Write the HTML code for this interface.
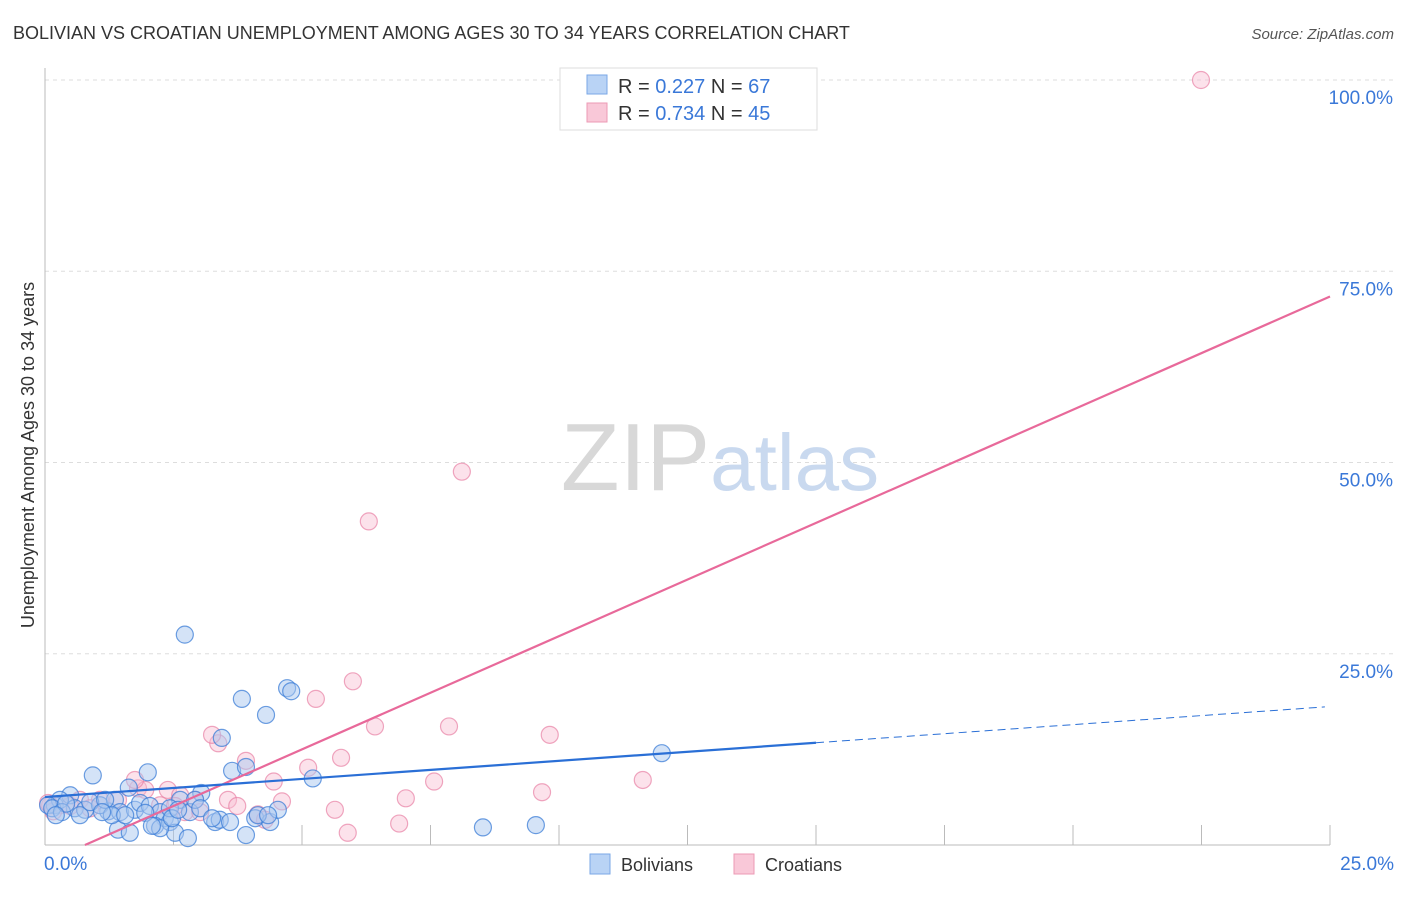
<!DOCTYPE html>
<html><head><meta charset="utf-8"><style>
body{margin:0;background:#fff;font-family:"Liberation Sans",sans-serif;}
svg text{font-family:"Liberation Sans",sans-serif;}
</style></head><body>
<svg id="chart" width="1406" height="892" viewBox="0 0 1406 892" xmlns="http://www.w3.org/2000/svg">
<text x="13" y="39" font-size="18" fill="#333">BOLIVIAN VS CROATIAN UNEMPLOYMENT AMONG AGES 30 TO 34 YEARS CORRELATION CHART</text>
<text x="1394" y="39" font-size="15" fill="#555" text-anchor="end" font-style="italic">Source: ZipAtlas.com</text>
<g id="grid"></g>
<text x="720" y="490" font-size="96" text-anchor="middle" fill="#ddd" font-family="Liberation Serif"><tspan fill="#d8d8d8">ZIP</tspan><tspan fill="#c9d9ef" font-family="Liberation Sans" font-size="80">atlas</tspan></text>
<g id="marks"></g>
<g id="lines"></g>
<text transform="translate(34,455) rotate(-90)" font-size="18" fill="#333" text-anchor="middle">Unemployment Among Ages 30 to 34 years</text>
<g>
<rect x="560" y="68" width="257" height="62" fill="#fff" stroke="#ddd"/>
<rect x="587" y="75" width="20" height="19" fill="#b9d3f5" stroke="#7aa7e6"/>
<rect x="587" y="103" width="20" height="19" fill="#f9c8d8" stroke="#ec9ab5"/>
<text x="618" y="93" font-size="20" fill="#333">R = <tspan fill="#3a78d8">0.227</tspan>   N = <tspan fill="#3a78d8">67</tspan></text>
<text x="618" y="120" font-size="20" fill="#333">R = <tspan fill="#3a78d8">0.734</tspan>   N = <tspan fill="#3a78d8">45</tspan></text>
</g>
<g>
<rect x="590" y="854" width="20" height="20" fill="#b9d3f5" stroke="#7aa7e6"/>
<text x="621" y="871" font-size="18" fill="#333">Bolivians</text>
<rect x="734" y="854" width="20" height="20" fill="#f9c8d8" stroke="#ec9ab5"/>
<text x="765" y="871" font-size="18" fill="#333">Croatians</text>
</g>
</svg>
<script>
const xTicks=[0,25];
const xTickLabels=["0.0%","25.0%"];
const yTicks=[25,50,75,100];
const yTickLabels=["25.0%","50.0%","75.0%","100.0%"];
const bolX=[2.72,3.83,4.71,4.79,4.30,3.44,3.64,3.91,5.21,12.00,8.52,9.55,0.93,2.00,3.04,1.63,1.23,0.49,0.19,0.29,0.58,0.78,1.07,1.36,1.46,1.75,1.85,2.04,2.24,2.33,2.14,2.43,2.63,2.82,2.92,3.31,3.40,3.91,3.60,4.09,4.38,4.53,1.42,1.65,2.53,2.78,0.06,0.14,0.33,0.41,0.68,0.88,1.17,1.30,1.56,1.95,2.24,2.08,2.43,3.02,3.25,4.14,4.34,2.47,2.59,0.21,1.11];
const bolY=[27.5,19.1,20.5,20.1,17.0,14.0,9.7,10.2,8.7,12.0,2.3,2.6,9.1,9.5,6.8,7.5,4.4,6.5,5.2,5.9,4.8,4.6,5.2,5.9,4.3,4.6,5.5,5.1,4.3,3.5,2.5,3.0,5.9,4.3,5.9,3.0,3.3,1.3,3.0,3.5,3.0,4.6,2.0,1.6,1.6,0.9,5.2,4.8,4.3,5.4,3.9,5.6,5.9,3.9,3.9,4.2,2.2,2.5,4.8,4.8,3.5,3.9,3.9,3.5,4.6,3.9,4.3];
const croX=[22.49,8.11,6.30,5.99,5.27,6.42,7.86,9.82,3.37,3.25,3.91,5.76,5.12,4.45,7.57,11.63,9.67,7.02,5.64,4.61,3.56,3.74,4.14,4.28,5.89,6.89,1.81,1.95,1.75,2.39,2.63,2.72,3.02,1.42,1.07,0.68,0.29,0.10,0.06,0.16,0.49,0.88,2.24,2.92,2.53];
const croY=[100,48.8,42.3,21.4,19.1,15.5,15.5,14.4,13.3,14.4,11.0,11.4,10.1,8.3,8.3,8.5,6.9,6.1,4.6,5.7,5.9,5.1,4.0,3.3,1.6,2.8,7.4,7.2,8.5,7.2,6.5,4.3,4.3,5.9,5.9,5.9,5.2,5.2,5.5,4.4,5.1,4.8,5.2,5.9,5.1];
const bolTrend=[6.27,18.1];
const croTrend=[-2.3,71.7];
const X0=45,X1=1330,Y0=845,Y100=80;
const sx=v=>X0+(X1-X0)*v/25;
const sy=v=>Y0-(Y0-Y100)*v/100;
const NS="http://www.w3.org/2000/svg";
function mk(tag,attrs,parent){const e=document.createElementNS(NS,tag);for(const k in attrs)e.setAttribute(k,attrs[k]);parent.appendChild(e);return e;}
const grid=document.getElementById('grid');
yTicks.forEach((t,i)=>{
 const l=mk('line',{x1:X0,x2:1394,y1:sy(t),y2:sy(t),stroke:'#ddd','stroke-dasharray':'4,4'},grid);
 
 
 const tx=mk('text',{x:1393,y:sy(t)+24,'font-size':19,fill:'#3a78d8','text-anchor':'end'},grid);
 tx.textContent=yTickLabels[i];
 
 
});
const ax=mk('line',{x1:X0,x2:X0,y1:68,y2:Y0,stroke:'#bbb'},grid);


const bx=mk('line',{x1:X0,x2:X1,y1:Y0,y2:Y0,stroke:'#bbb'},grid);


for(let i=1;i<=10;i++){
 const v=i*2.5;
 const t=mk('line',{x1:sx(v),x2:sx(v),y1:Y0-20,y2:Y0,stroke:'#bbb'},grid);
 
 
}
xTicks.forEach((t,i)=>{
 const tx=mk('text',{x:i==0?44:1394,y:870,'font-size':19,fill:'#3a78d8','text-anchor':i==0?'start':'end'},grid);
 tx.textContent=xTickLabels[i];
 
 
});
const marks=document.getElementById('marks');
croX.forEach((x,i)=>{
 const c=mk('circle',{cx:sx(x),cy:sy(croY[i]),r:8.5,fill:'rgba(249,190,210,0.45)',stroke:'rgba(232,130,165,0.7)','stroke-width':1.2},marks);
 
 
});
bolX.forEach((x,i)=>{
 const c=mk('circle',{cx:sx(x),cy:sy(bolY[i]),r:8.5,fill:'rgba(170,200,240,0.5)',stroke:'rgba(60,125,215,0.75)','stroke-width':1.2},marks);
 
 
});
const lines=document.getElementById('lines');
const bf=v=>bolTrend[0]+(bolTrend[1]-bolTrend[0])*v/25;
const cf=v=>croTrend[0]+(croTrend[1]-croTrend[0])*v/25;
const xz=-croTrend[0]/((croTrend[1]-croTrend[0])/25);
const l1=mk('line',{x1:sx(xz),y1:sy(0),x2:sx(25),y2:sy(cf(25)),stroke:'#e8699a','stroke-width':2.2},lines);


const l2=mk('line',{x1:sx(0),y1:sy(bf(0)),x2:sx(15),y2:sy(bf(15)),stroke:'#2a6fd6','stroke-width':2.2},lines);


const l3=mk('line',{x1:sx(15),y1:sy(bf(15)),x2:sx(24.9),y2:sy(bf(24.9)),stroke:'#2a6fd6','stroke-width':1,'stroke-dasharray':'8,5'},lines);


</script>
</body></html>
